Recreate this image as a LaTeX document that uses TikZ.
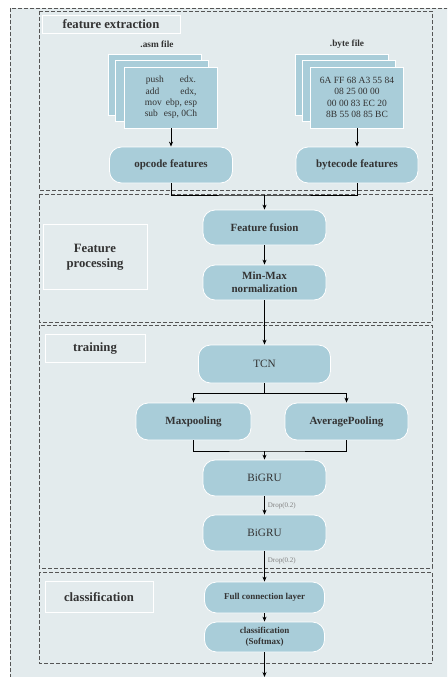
\documentclass[tikz,border=0pt]{standalone}
\usepackage{fontspec}
\setmainfont{Liberation Serif}
\usepackage{tikz}
\usetikzlibrary{arrows.meta}
\definecolor{panel}{HTML}{E3EBED}
\definecolor{blockfill}{HTML}{A9CDD9}
\definecolor{dashgray}{HTML}{555555}
\definecolor{txt}{HTML}{333333}
\tikzset{
  font={\fontsize{9.5pt}{11.3}\selectfont}}

\begin{document}
\begin{tikzpicture}[x=1pt,y=-1pt]
\tikzstyle{every node}+=[inner sep=0pt, text=txt]
\tikzstyle{block}=[draw=white, line width=0.8pt, fill=blockfill, rounded corners=12pt, align=center, font=\fontsize{11pt}{13.3}\selectfont\bfseries]
\tikzstyle{sheet}=[draw=white, line width=0.8pt, fill=blockfill, minimum width=93pt, minimum height=61pt, align=center]
\tikzstyle{stage}=[draw=dashgray, dash pattern=on 4pt off 2pt, line width=0.9pt]
\tikzstyle{tag}=[draw=white, line width=0.8pt, align=center, font=\fontsize{12.7pt}{15.3}\selectfont\bfseries]
\tikzstyle{link}=[-{Stealth[length=5pt,width=4pt]}, line width=0.8pt, black]
\tikzstyle{drop}=[font=\fontsize{7pt}{8}\selectfont, text=gray]

\useasboundingbox (0,0) rectangle (447,677);
\clip (0,0) rectangle (447,677);
\fill[white] (0,0) rectangle (447,677);
\fill[panel] (10,8) rectangle (470,700);
\draw[stage] (10,8) rectangle (470,700);

% the four stages
\draw[stage] (39,11) rectangle (432,190);
\draw[stage] (39,194) rectangle (432,322);
\draw[stage] (39,325) rectangle (432,568);
\draw[stage] (39,572) rectangle (432,663);

\node[tag, minimum width=138pt, minimum height=18pt] (tagext) at (111,24) {feature extraction};
\node[tag, minimum width=104pt, minimum height=65pt] (tagproc) at (95,257) {Feature\\processing};
\node[tag, minimum width=100pt, minimum height=28pt] (tagtrain) at (95,348) {training};
\node[tag, minimum width=108pt, minimum height=31pt] (tagcls) at (99,597) {classification};

% input files
\node[font=\fontsize{9.3pt}{11}\selectfont\bfseries] (asmname) at (157,44) {.asm file};
\node[font=\fontsize{9.3pt}{11}\selectfont\bfseries] (bytename) at (347,44) {.byte file};
\node[sheet] (asmback) at (155,84.5) {};
\node[sheet] (asmmid) at (162,91) {};
\node[sheet] (asm) at (171,97.5) {push\hspace{16pt}edx.\\add\hspace{21pt}edx,\\mov\hspace{4pt}ebp, esp\\sub\hspace{6pt}esp, 0Ch};
\node[sheet] (byteback) at (342,84.5) {};
\node[sheet] (bytemid) at (349,91) {};
\node[sheet] (byte) at (357,97.5) {6A FF 68 A3 55 84\\08 25 00 00\\00 00 83 EC 20\\8B 55 08 85 BC};

\node[block, minimum width=123pt, minimum height=36pt] (opcode) at (171,165) {opcode features};
\node[block, minimum width=122pt, minimum height=36pt] (bytecode) at (357,165) {bytecode features};

\node[block, minimum width=123pt, minimum height=35pt] (fusion) at (264.5,227.5) {Feature fusion};
\node[block, minimum width=123pt, minimum height=35pt] (minmax) at (264.5,282.5) {Min-Max\\normalization};

\node[block, minimum width=132pt, minimum height=38pt, font=\fontsize{11.2pt}{13}\selectfont] (tcn) at (264.5,364) {TCN};
\node[block, minimum width=115pt, minimum height=37pt] (maxpool) at (193.5,421.5) {Maxpooling};
\node[block, minimum width=123pt, minimum height=37pt] (avgpool) at (346.5,421.5) {AveragePooling};
\node[block, minimum width=123pt, minimum height=36pt, font=\fontsize{11.2pt}{13}\selectfont] (gruone) at (264.5,478) {BiGRU};
\node[block, minimum width=123pt, minimum height=36pt, font=\fontsize{11.2pt}{13}\selectfont] (grutwo) at (264.5,533) {BiGRU};

\node[block, minimum width=120pt, minimum height=31pt, font=\fontsize{9pt}{11}\selectfont\bfseries] (fc) at (264.5,597.5) {Full connection layer};
\node[block, minimum width=120pt, minimum height=30pt, font=\fontsize{9pt}{11.5}\selectfont\bfseries] (softmax) at (264.5,637) {classification\\(Softmax)};

\coordinate (join) at (264.5,195);
\coordinate (split) at (264.5,393);
\coordinate (merge) at (264.5,451);
\coordinate (out) at (264.5,677);

\draw[link] (asm) -- (opcode);
\draw[link] (byte) -- (bytecode);
\draw[line width=0.8pt] (opcode.south) |- (join) -| (bytecode.south);
\draw[link] (join) -- (fusion);
\draw[link] (fusion) -- (minmax);
\draw[link] (minmax) -- (tcn);
\draw[line width=0.8pt] (tcn) -- (split);
\draw[link] (split) -| (maxpool);
\draw[link] (split) -| (avgpool);
\draw[line width=0.8pt] (maxpool.south) |- (merge) -| (avgpool.south);
\draw[link] (merge) -- (gruone);
\draw[link] (gruone) -- node[drop, right=3pt] {Drop(0.2)} (grutwo);
\draw[link] (grutwo) -- node[drop, pos=0.3, right=3pt] {Drop(0.2)} (fc);
\draw[link] (fc) -- (softmax);
\draw[link] (softmax) -- (out);
\end{tikzpicture}
\end{document}
